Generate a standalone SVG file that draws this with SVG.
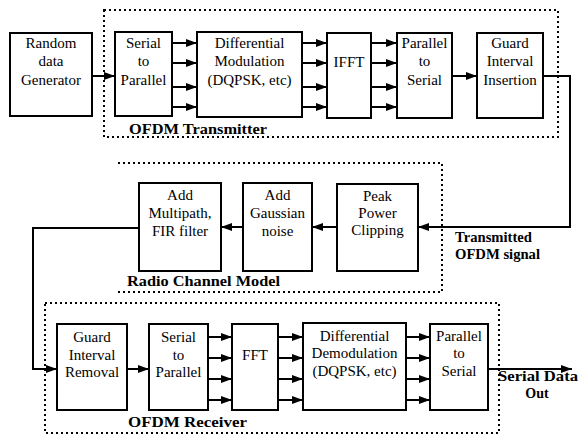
<svg xmlns="http://www.w3.org/2000/svg" width="579" height="434" viewBox="0 0 579 434">
<defs>
<marker id="ah" viewBox="0 0 11 8" refX="11" refY="4" markerWidth="11" markerHeight="8" markerUnits="userSpaceOnUse" orient="auto">
<path d="M0,0 L11,4 L0,8 z" fill="#000"/>
</marker>
<style>
.box{fill:#fff;stroke:#000;stroke-width:2}
.t{font-family:"Liberation Serif","Times New Roman",serif;font-size:15px;text-anchor:middle;fill:#000}
.lbl{font-family:"Liberation Serif","Times New Roman",serif;font-size:14px;font-weight:bold;fill:#000}
.dot{fill:none;stroke:#000;stroke-width:2;stroke-dasharray:2 3}
.c{fill:none;stroke:#000;stroke-width:2}
.a{fill:none;stroke:#000;stroke-width:2;marker-end:url(#ah)}
</style>
</defs>
<rect width="579" height="434" fill="#fff"/>

<g id="groups">
<rect class="dot" x="104" y="10" width="454" height="127"/>
<text class="lbl" x="129" y="134" textLength="138" lengthAdjust="spacingAndGlyphs">OFDM Transmitter</text>
<path class="dot" d="M118,163 H442 V292 H118"/>
<text class="lbl" x="127" y="286" textLength="153" lengthAdjust="spacingAndGlyphs">Radio Channel Model</text>
<rect class="dot" x="45" y="303" width="454" height="130"/>
<text class="lbl" x="128" y="427" textLength="119" lengthAdjust="spacingAndGlyphs">OFDM Receiver</text>
</g>

<g id="connectors">
<path class="a" d="M92,76 H115"/>
<path class="a" d="M172,43 H197"/>
<path class="a" d="M172,63 H197"/>
<path class="a" d="M172,87 H197"/>
<path class="a" d="M172,107 H197"/>
<path class="a" d="M302,43 H327"/>
<path class="a" d="M302,63 H327"/>
<path class="a" d="M302,87 H327"/>
<path class="a" d="M302,107 H327"/>
<path class="a" d="M371,43 H397"/>
<path class="a" d="M371,63 H397"/>
<path class="a" d="M371,87 H397"/>
<path class="a" d="M371,107 H397"/>
<path class="a" d="M452,76 H477"/>
<path class="a" d="M543,76 H570 V227 H418"/>
<path class="a" d="M337,227 H312"/>
<path class="a" d="M243,227 H221"/>
<path class="a" d="M139,228 H33 V369 H57"/>
<path class="a" d="M127,369 H149"/>
<path class="a" d="M208,337 H232"/>
<path class="a" d="M208,358 H232"/>
<path class="a" d="M208,379 H232"/>
<path class="a" d="M208,400 H232"/>
<path class="a" d="M278,337 H303"/>
<path class="a" d="M278,358 H303"/>
<path class="a" d="M278,379 H303"/>
<path class="a" d="M278,400 H303"/>
<path class="a" d="M406,337 H430"/>
<path class="a" d="M406,358 H430"/>
<path class="a" d="M406,379 H430"/>
<path class="a" d="M406,400 H430"/>
<path class="a" d="M488,369 H572"/>
<text class="lbl" x="455" y="242" textLength="77" lengthAdjust="spacingAndGlyphs">Transmitted</text>
<text class="lbl" x="455" y="259" textLength="85" lengthAdjust="spacingAndGlyphs">OFDM signal</text>
<text class="lbl" x="498" y="381" textLength="80" lengthAdjust="spacingAndGlyphs">Serial Data</text>
<text class="lbl" x="537" y="398" text-anchor="middle">Out</text>
</g>

<g id="random">
<rect class="box" x="10" y="33" width="82" height="83"/>
<text class="t" x="51" y="48">Random</text>
<text class="t" x="51" y="66">data</text>
<text class="t" x="51" y="85">Generator</text>
</g>
<g id="s2p-tx">
<rect class="box" x="115" y="32" width="57" height="84"/>
<text class="t" x="143.5" y="48">Serial</text>
<text class="t" x="143.5" y="66">to</text>
<text class="t" x="143.5" y="85">Parallel</text>
</g>
<g id="diffmod">
<rect class="box" x="197" y="32" width="105" height="85"/>
<text class="t" x="249.5" y="48">Differential</text>
<text class="t" x="249.5" y="66">Modulation</text>
<text class="t" x="249.5" y="85">(DQPSK, etc)</text>
</g>
<g id="ifft">
<rect class="box" x="327" y="33" width="44" height="85"/>
<text class="t" x="349" y="67">IFFT</text>
</g>
<g id="p2s-tx">
<rect class="box" x="397" y="33" width="55" height="85"/>
<text class="t" x="424.5" y="48">Parallel</text>
<text class="t" x="424.5" y="66">to</text>
<text class="t" x="424.5" y="85">Serial</text>
</g>
<g id="gi-ins">
<rect class="box" x="477" y="33" width="66" height="85"/>
<text class="t" x="510" y="48">Guard</text>
<text class="t" x="510" y="66">Interval</text>
<text class="t" x="510" y="85">Insertion</text>
</g>

<g id="multipath">
<rect class="box" x="139" y="183" width="82" height="88"/>
<text class="t" x="180" y="200">Add</text>
<text class="t" x="180" y="218">Multipath,</text>
<text class="t" x="180" y="236">FIR filter</text>
</g>
<g id="noise">
<rect class="box" x="243" y="183" width="69" height="88"/>
<text class="t" x="277.5" y="200">Add</text>
<text class="t" x="277.5" y="218">Gaussian</text>
<text class="t" x="277.5" y="236">noise</text>
</g>
<g id="clipping">
<rect class="box" x="337" y="184" width="81" height="87"/>
<text class="t" x="377.5" y="201">Peak</text>
<text class="t" x="377.5" y="218">Power</text>
<text class="t" x="377.5" y="235">Clipping</text>
</g>

<g id="gi-rem">
<rect class="box" x="57" y="324" width="70" height="86"/>
<text class="t" x="92" y="342">Guard</text>
<text class="t" x="92" y="360">Interval</text>
<text class="t" x="92" y="377">Removal</text>
</g>
<g id="s2p-rx">
<rect class="box" x="149" y="324" width="59" height="86"/>
<text class="t" x="178.5" y="342">Serial</text>
<text class="t" x="178.5" y="360">to</text>
<text class="t" x="178.5" y="377">Parallel</text>
</g>
<g id="fft">
<rect class="box" x="232" y="324" width="46" height="86"/>
<text class="t" x="255" y="360">FFT</text>
</g>
<g id="diffdemod">
<rect class="box" x="303" y="323" width="103" height="87"/>
<text class="t" x="354.5" y="341">Differential</text>
<text class="t" x="354.5" y="358">Demodulation</text>
<text class="t" x="354.5" y="376">(DQPSK, etc)</text>
</g>
<g id="p2s-rx">
<rect class="box" x="430" y="324" width="58" height="86"/>
<text class="t" x="459" y="341">Parallel</text>
<text class="t" x="459" y="358">to</text>
<text class="t" x="459" y="376">Serial</text>
</g>
</svg>
